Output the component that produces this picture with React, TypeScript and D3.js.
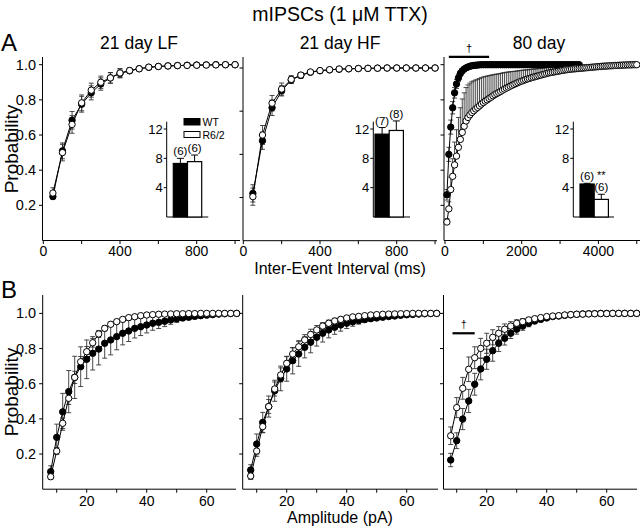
import React from "react";
import * as d3 from "d3";

const FONT = "'Liberation Sans', Arial, Helvetica, sans-serif";

// ---------- Inter-event interval CDFs (ms) ----------
const intervalX = [50, 100, 150, 200, 250, 300, 350, 400, 450, 500, 550, 600, 650, 700, 750, 800, 850, 900, 950, 1000];

const lfWT = [0.25, 0.51, 0.684, 0.775, 0.84, 0.89, 0.925, 0.95, 0.965, 0.977, 0.985, 0.99, 0.993, 0.995, 0.997, 0.998, 0.999, 1.0, 1.0, 1.0];
const lfWTErr = [0.015, 0.045, 0.05, 0.045, 0.04, 0.035, 0.03, 0.025, 0.015, 0.01, 0.008, 0.006, 0.005, 0.004, 0.003, 0.002, 0.002, 0.001, 0, 0];
const lfR62 = [0.27, 0.5, 0.66, 0.783, 0.855, 0.9, 0.925, 0.953, 0.967, 0.977, 0.986, 0.99, 0.993, 0.995, 0.996, 0.997, 0.998, 0.999, 1.0, 1.0];
const lfR62Err = [0.03, 0.047, 0.05, 0.045, 0.04, 0.035, 0.03, 0.025, 0.015, 0.01, 0.008, 0.006, 0.005, 0.004, 0.003, 0.002, 0.002, 0.001, 0, 0];

const hfWT = [0.274, 0.579, 0.77, 0.868, 0.93, 0.957, 0.975, 0.984, 0.989, 0.993, 0.995, 0.997, 0.998, 0.999, 1.0, 1.0, 1.0, 1.0, 1.0, 1.0];
const hfWTErr = [0.05, 0.05, 0.045, 0.03, 0.02, 0.015, 0.01, 0.008, 0.006, 0.004, 0.003, 0.002, 0.002, 0.001, 0, 0, 0, 0, 0, 0];
const hfR62 = [0.255, 0.612, 0.796, 0.878, 0.934, 0.959, 0.977, 0.985, 0.99, 0.994, 0.996, 0.997, 0.998, 0.999, 1.0, 1.0, 1.0, 1.0, 1.0, 1.0];
const hfR62Err = [0.05, 0.055, 0.045, 0.035, 0.022, 0.015, 0.01, 0.008, 0.006, 0.004, 0.003, 0.002, 0.002, 0.001, 0, 0, 0, 0, 0, 0];

const oldX = [
  50, 100, 150, 200, 250, 300, 350, 400, 450, 500,
  550, 600, 650, 700, 750, 800, 850, 900, 950, 1000,
  1050, 1100, 1150, 1200, 1250, 1300, 1350, 1400, 1450, 1500,
  1550, 1600, 1650, 1700, 1750, 1800, 1850, 1900, 1950, 2000,
  2050, 2100, 2150, 2200, 2250, 2300, 2350, 2400, 2450, 2500,
  2550, 2600, 2650, 2700, 2750, 2800, 2850, 2900, 2950, 3000,
  3050, 3100, 3150, 3200, 3250, 3300, 3350, 3400, 3450, 3500,
  3550, 3600, 3650, 3700, 3750, 3800, 3850, 3900, 3950, 4000,
  4050, 4100, 4150, 4200, 4250, 4300, 4350, 4400, 4450, 4500,
  4550, 4600, 4650, 4700, 4750, 4800, 4850, 4900, 4950, 5000,
];
const oldWT = [
  0.26, 0.49, 0.645, 0.755, 0.84, 0.89, 0.925, 0.95, 0.965, 0.975,
  0.982, 0.987, 0.991, 0.994, 0.996, 0.997, 0.998, 0.999, 1.0, 1.0,
  1.0, 1.0, 1.0, 1.0, 1.0, 1.0, 1.0, 1.0, 1.0, 1.0,
  1.0, 1.0, 1.0, 1.0, 1.0, 1.0, 1.0, 1.0, 1.0, 1.0,
  1.0, 1.0, 1.0, 1.0, 1.0, 1.0, 1.0, 1.0, 1.0, 1.0,
  1.0, 1.0, 1.0, 1.0, 1.0, 1.0, 1.0, 1.0, 1.0, 1.0,
  1.0, 1.0, 1.0, 1.0, 1.0, 1.0, 1.0, 1.0, 1.0, 1.0,
];
const oldWTErr = [
  0.03, 0.04, 0.04, 0.035, 0.03, 0.025, 0.02, 0.015, 0.012, 0.01,
  0.008, 0.006, 0.005, 0.004, 0.003, 0.002, 0.002, 0.001, 0, 0,
  0, 0, 0, 0, 0, 0, 0, 0, 0, 0,
  0, 0, 0, 0, 0, 0, 0, 0, 0, 0,
  0, 0, 0, 0, 0, 0, 0, 0, 0, 0,
  0, 0, 0, 0, 0, 0, 0, 0, 0, 0,
  0, 0, 0, 0, 0, 0, 0, 0, 0, 0,
];
const oldR62 = [
  0.105, 0.18, 0.29, 0.365, 0.43, 0.48, 0.53, 0.575, 0.615, 0.65,
  0.68, 0.7, 0.715, 0.728, 0.738, 0.748, 0.757, 0.766, 0.776, 0.785,
  0.793, 0.8, 0.808, 0.815, 0.823, 0.83, 0.836, 0.842, 0.848, 0.855,
  0.861, 0.867, 0.872, 0.878, 0.883, 0.888, 0.893, 0.898, 0.903, 0.907,
  0.911, 0.915, 0.919, 0.922, 0.926, 0.929, 0.932, 0.935, 0.938, 0.941,
  0.944, 0.947, 0.95, 0.953, 0.955, 0.957, 0.959, 0.961, 0.963, 0.965,
  0.967, 0.969, 0.971, 0.972, 0.974, 0.975, 0.976, 0.977, 0.978, 0.979,
  0.98, 0.981, 0.982, 0.983, 0.984, 0.985, 0.986, 0.987, 0.988, 0.989,
  0.99, 0.991, 0.992, 0.992, 0.993, 0.994, 0.994, 0.995, 0.996, 0.996,
  0.997, 0.997, 0.998, 0.998, 0.999, 0.999, 0.999, 1.0, 1.0, 1.0,
];
const oldR62Err = [
  0.02, 0.04, 0.07, 0.1, 0.13, 0.15, 0.17, 0.18, 0.19, 0.19,
  0.19, 0.185, 0.18, 0.175, 0.17, 0.165, 0.16, 0.155, 0.15, 0.145,
  0.14, 0.135, 0.13, 0.125, 0.12, 0.115, 0.11, 0.106, 0.102, 0.098,
  0.094, 0.09, 0.086, 0.082, 0.078, 0.074, 0.07, 0.067, 0.064, 0.061,
  0.058, 0.055, 0.052, 0.05, 0.048, 0.046, 0.044, 0.042, 0.04, 0.038,
  0.036, 0.035, 0.034, 0.033, 0.032, 0.031, 0.03, 0.029, 0.028, 0.027,
  0.026, 0.025, 0.024, 0.023, 0.022, 0.021, 0.02, 0.019, 0.018, 0.017,
  0.016, 0.015, 0.015, 0.014, 0.013, 0.012, 0.012, 0.011, 0.01, 0.01,
  0.009, 0.009, 0.008, 0.008, 0.007, 0.006, 0.006, 0.005, 0.005, 0.004,
  0.004, 0.003, 0.003, 0.002, 0.002, 0.002, 0.001, 0, 0, 0,
];

// ---------- Amplitude CDFs (pA) ----------
const ampX = [8, 10, 12, 14, 16, 18, 20, 22, 24, 26, 28, 30, 32, 34, 36, 38, 40, 42, 44, 46, 48, 50, 52, 54, 56, 58, 60, 62, 64, 66, 68, 70];

const ampLfWT = [0.1, 0.295, 0.44, 0.555, 0.636, 0.697, 0.739, 0.773, 0.797, 0.83, 0.849, 0.868, 0.887, 0.9, 0.915, 0.924, 0.934, 0.944, 0.949, 0.955, 0.963, 0.969, 0.974, 0.978, 0.983, 0.987, 0.99, 0.993, 0.996, 0.998, 0.999, 1.0];
const ampLfWTErr = [0.033, 0.075, 0.105, 0.12, 0.12, 0.113, 0.11, 0.095, 0.09, 0.085, 0.085, 0.075, 0.066, 0.06, 0.055, 0.05, 0.045, 0.04, 0.035, 0.03, 0.025, 0.02, 0.015, 0.012, 0.01, 0.008, 0.006, 0.004, 0.003, 0.002, 0.001, 0];
const ampLfR62 = [0.071, 0.217, 0.375, 0.517, 0.636, 0.725, 0.782, 0.833, 0.883, 0.915, 0.938, 0.953, 0.966, 0.976, 0.981, 0.987, 0.991, 0.993, 0.995, 0.996, 0.997, 0.998, 0.998, 0.999, 0.999, 1.0, 1.0, 1.0, 1.0, 1.0, 1.0, 1.0];
const ampLfR62Err = [0.015, 0.02, 0.03, 0.035, 0.035, 0.03, 0.03, 0.025, 0.02, 0.015, 0.012, 0.01, 0.008, 0.006, 0.005, 0.004, 0.003, 0.003, 0.002, 0.002, 0.001, 0.001, 0.001, 0, 0, 0, 0, 0, 0, 0, 0, 0];

const ampHfWT = [0.109, 0.257, 0.38, 0.47, 0.56, 0.63, 0.684, 0.731, 0.769, 0.807, 0.836, 0.864, 0.887, 0.906, 0.921, 0.934, 0.944, 0.952, 0.959, 0.965, 0.97, 0.974, 0.978, 0.982, 0.985, 0.989, 0.992, 0.994, 0.996, 0.998, 0.999, 1.0];
const ampHfWTErr = [0.03, 0.057, 0.057, 0.06, 0.06, 0.07, 0.07, 0.075, 0.07, 0.06, 0.06, 0.05, 0.05, 0.045, 0.04, 0.035, 0.03, 0.025, 0.02, 0.017, 0.014, 0.012, 0.01, 0.008, 0.006, 0.005, 0.004, 0.003, 0.002, 0.001, 0, 0];
const ampHfR62 = [0.075, 0.217, 0.356, 0.47, 0.57, 0.65, 0.716, 0.769, 0.81, 0.849, 0.88, 0.906, 0.928, 0.944, 0.957, 0.966, 0.974, 0.98, 0.983, 0.987, 0.991, 0.993, 0.995, 0.996, 0.997, 0.998, 0.999, 1.0, 1.0, 1.0, 1.0, 1.0];
const ampHfR62Err = [0.02, 0.03, 0.035, 0.04, 0.04, 0.04, 0.04, 0.035, 0.035, 0.03, 0.03, 0.025, 0.02, 0.018, 0.015, 0.012, 0.01, 0.008, 0.006, 0.005, 0.004, 0.003, 0.002, 0.002, 0.001, 0.001, 0, 0, 0, 0, 0, 0];

const ampOldWT = [0.166, 0.276, 0.399, 0.502, 0.597, 0.684, 0.739, 0.788, 0.83, 0.858, 0.887, 0.91, 0.928, 0.944, 0.957, 0.966, 0.974, 0.982, 0.985, 0.989, 0.992, 0.995, 0.997, 0.998, 0.999, 1.0, 1.0, 1.0, 1.0, 1.0, 1.0, 1.0];
const ampOldWTErr = [0.038, 0.045, 0.06, 0.066, 0.062, 0.062, 0.057, 0.06, 0.047, 0.038, 0.03, 0.028, 0.024, 0.02, 0.016, 0.013, 0.01, 0.008, 0.006, 0.005, 0.004, 0.003, 0.002, 0.001, 0, 0, 0, 0, 0, 0, 0, 0];
const ampOldR62 = [0.304, 0.464, 0.574, 0.682, 0.748, 0.801, 0.83, 0.864, 0.887, 0.91, 0.928, 0.944, 0.953, 0.963, 0.97, 0.976, 0.982, 0.985, 0.987, 0.991, 0.993, 0.995, 0.996, 0.997, 0.998, 0.999, 0.999, 1.0, 1.0, 1.0, 1.0, 1.0];
const ampOldR62Err = [0.05, 0.057, 0.062, 0.07, 0.062, 0.057, 0.057, 0.043, 0.038, 0.03, 0.025, 0.02, 0.017, 0.014, 0.012, 0.01, 0.008, 0.006, 0.005, 0.004, 0.003, 0.002, 0.002, 0.001, 0.001, 0, 0, 0, 0, 0, 0, 0];

// ---------- Inset bars (frequency, Hz) ----------
const insetGroups = ["WT", "R6/2"];
const insetWT = [7.3, 11.3, 4.5];
const insetWTErr = [0.7, 0.9, 0.1];
const insetR62 = [7.55, 11.8, 2.4];
const insetR62Err = [0.9, 1.3, 0.7];
const insetNWT = ["(6)", "(7)", "(6)"];
const insetNR62 = ["(6)", "(8)", "(6)"];
const insetTicks = [4, 8, 12];

// ---------- Text ----------
const panelTitles = ["21 day LF", "21 day HF", "80 day"];
const yTicksFine = [0.2, 0.4, 0.6, 0.8, 1.0];
const yTicksQuarter = [0.25, 0.5, 0.75, 1.0];
const msTicksShort = [0, 200, 400, 600, 800, 1000];
const msLabelsShort = [0, 400, 800];
const msTicksLong = [0, 1000, 2000, 3000, 4000, 5000];
const msLabelsLong = [0, 2000, 4000];
const ampTicks = [10, 20, 30, 40, 50, 60];
const ampLabels = [20, 40, 60];

type S = { x: number[]; y: number[]; e: number[]; filled: boolean; upOnly?: boolean };

function DataLayer({ series, xs, ys }: { series: S[]; xs: any; ys: any }) {
  return (
    <g>
      {series.map((s, si) => (
        <g key={"e" + si} stroke="#2a2a2a" strokeWidth={0.85}>
          {s.y.map((v, i) => {
            const e = s.e[i];
            if (!e) return null;
            const cx = xs(s.x[i]);
            const y1 = s.upOnly ? ys(v) : ys(v - e);
            const y2 = ys(v + e);
            return (
              <g key={i}>
                <line x1={cx} x2={cx} y1={y1} y2={y2} />
                {!s.upOnly && <line x1={cx - 2.5} x2={cx + 2.5} y1={y1} y2={y1} />}
                <line x1={cx - 2.5} x2={cx + 2.5} y1={y2} y2={y2} />
              </g>
            );
          })}
        </g>
      ))}
      {series.map((s, si) => {
        const line = d3
          .line<number>()
          .x((_, i) => xs(s.x[i]))
          .y((d) => ys(d));
        return <path key={"l" + si} d={line(s.y) || ""} fill="none" stroke="#000" strokeWidth={1} />;
      })}
      {[true, false].map((f) =>
        series
          .filter((s) => s.filled === f)
          .map((s, si) => (
            <g key={"c" + f + si}>
              {s.y.map((v, i) => (
                <circle
                  key={i}
                  cx={xs(s.x[i])}
                  cy={ys(v)}
                  r={3.2}
                  fill={s.filled ? "#000" : "#fff"}
                  stroke="#000"
                  strokeWidth={1}
                />
              ))}
            </g>
          ))
      )}
    </g>
  );
}

function Axes({
  xs, ys, axisX, axisEnd, axisTop, xTicks, xLabels, yTicks, showYLabels, labelY,
}: any) {
  const y0 = ys(0);
  return (
    <g>
      <line x1={axisX} x2={axisX} y1={axisTop} y2={y0} stroke="#000" strokeWidth={1} />
      <line x1={axisX} x2={axisEnd} y1={y0} y2={y0} stroke="#000" strokeWidth={1} />
      {yTicks.map((t: number) => (
        <g key={"y" + t}>
          <line x1={axisX - 3.5} x2={axisX} y1={ys(t)} y2={ys(t)} stroke="#000" />
          {showYLabels && (
            <text x={axisX - 6.5} y={ys(t)} dy="0.35em" textAnchor="end" fontSize={14.5} fill="#000">
              {d3.format(".1f")(t)}
            </text>
          )}
        </g>
      ))}
      {xTicks.map((t: number) => (
        <line key={"x" + t} x1={xs(t)} x2={xs(t)} y1={y0} y2={y0 + 3.5} stroke="#000" />
      ))}
      {xLabels.map((t: number) => (
        <text key={"xl" + t} x={xs(t)} y={labelY} textAnchor="middle" fontSize={14} fill="#000">
          {t}
        </text>
      ))}
    </g>
  );
}

function Inset({ idx, axisX, barX0, axisEnd, legend }: any) {
  const yIn = d3.scaleLinear().domain([0, 12]).range([217, 129]);
  const xb = d3.scaleBand().domain(insetGroups).range([barX0, barX0 + 28.4]).padding(0);
  const vals = [insetWT[idx], insetR62[idx]];
  const errs = [insetWTErr[idx], insetR62Err[idx]];
  const ns = [insetNWT[idx], insetNR62[idx]];
  return (
    <g>
      <line x1={axisX} x2={axisX} y1={yIn(13)} y2={yIn(0)} stroke="#000" />
      <line x1={axisX} x2={axisEnd} y1={yIn(0)} y2={yIn(0)} stroke="#000" />
      {insetTicks.map((t) => (
        <g key={t}>
          <line x1={axisX - 3} x2={axisX} y1={yIn(t)} y2={yIn(t)} stroke="#000" />
          <text x={axisX - 4} y={yIn(t)} dy="0.35em" textAnchor="end" fontSize={13} fill="#000">
            {t}
          </text>
        </g>
      ))}
      {insetGroups.map((g, i) => {
        const bx = xb(g) as number;
        const bw = xb.bandwidth();
        const cx = bx + bw / 2;
        const top = yIn(vals[i] + errs[i]);
        return (
          <g key={g}>
            <line x1={cx} x2={cx} y1={yIn(vals[i])} y2={top} stroke="#000" strokeWidth={1} />
            <line x1={cx - 3.5} x2={cx + 3.5} y1={top} y2={top} stroke="#000" strokeWidth={1} />
            <rect
              x={bx}
              y={yIn(vals[i])}
              width={bw}
              height={yIn(0) - yIn(vals[i])}
              fill={i === 0 ? "#000" : "#fff"}
              stroke="#000"
              strokeWidth={1.2}
            />
            <text x={cx} y={top - 3} textAnchor="middle" fontSize={11.5} fill="#000">
              {ns[i]}
            </text>
          </g>
        );
      })}
      {idx === 2 && (
        <text x={(xb("R6/2") as number) + xb.bandwidth() / 2} y={178.5} textAnchor="middle" fontSize={11} fill="#000">
          **
        </text>
      )}
      {legend && (
        <g>
          <rect x={184} y={118.5} width={16} height={6.5} fill="#000" stroke="#000" />
          <text x={202.5} y={125.5} fontSize={10.5} fill="#000">WT</text>
          <rect x={184} y={131.5} width={16} height={6} fill="#fff" stroke="#000" />
          <text x={202.5} y={138.5} fontSize={10.5} fill="#000">R6/2</text>
        </g>
      )}
    </g>
  );
}

export default function App() {
  const yA = d3.scaleLinear().domain([0, 1]).range([240.5, 64.7]);
  const yA2 = d3.scaleLinear().domain([0, 1]).range([240.7, 68]);
  const yB = d3.scaleLinear().domain([0, 1]).range([489.2, 313.4]);

  const xA1 = d3.scaleLinear().domain([0, 1000]).range([43.3, 235.05]);
  const xA2 = d3.scaleLinear().domain([0, 1000]).range([243.3, 435.05]);
  const xA3 = d3.scaleLinear().domain([0, 5000]).range([445, 636.75]);
  const xB1 = d3.scaleLinear().domain([0, 70]).range([26.7, 236.7]);
  const xB2 = d3.scaleLinear().domain([0, 70]).range([226.7, 436.7]);
  const xB3 = d3.scaleLinear().domain([0, 70]).range([426.7, 636.7]);

  const top = [
    {
      xs: xA1, ys: yA, axisX: 42.5, axisEnd: 240, yTicks: yTicksFine, showY: true,
      xTicks: msTicksShort, xLabels: msLabelsShort,
      series: [
        { x: intervalX, y: lfWT, e: lfWTErr, filled: true },
        { x: intervalX, y: lfR62, e: lfR62Err, filled: false },
      ],
    },
    {
      xs: xA2, ys: yA2, axisX: 243, axisEnd: 437, yTicks: yTicksQuarter, showY: false,
      xTicks: msTicksShort, xLabels: msLabelsShort,
      series: [
        { x: intervalX, y: hfWT, e: hfWTErr, filled: true },
        { x: intervalX, y: hfR62, e: hfR62Err, filled: false },
      ],
    },
    {
      xs: xA3, ys: yA, axisX: 444, axisEnd: 640, yTicks: yTicksFine, showY: false,
      xTicks: msTicksLong, xLabels: msLabelsLong,
      series: [
        { x: oldX.slice(0, oldWT.length), y: oldWT, e: oldWTErr, filled: true },
        { x: oldX, y: oldR62, e: oldR62Err, filled: false, upOnly: true },
      ],
    },
  ];
  const bottom = [
    {
      xs: xB1, axisX: 42.7, axisEnd: 236, showY: true,
      series: [
        { x: ampX, y: ampLfWT, e: ampLfWTErr, filled: true },
        { x: ampX, y: ampLfR62, e: ampLfR62Err, filled: false },
      ],
    },
    {
      xs: xB2, axisX: 242.7, axisEnd: 438, showY: false,
      series: [
        { x: ampX, y: ampHfWT, e: ampHfWTErr, filled: true },
        { x: ampX, y: ampHfR62, e: ampHfR62Err, filled: false },
      ],
    },
    {
      xs: xB3, axisX: 443.5, axisEnd: 637, showY: false,
      series: [
        { x: ampX, y: ampOldWT, e: ampOldWTErr, filled: true },
        { x: ampX, y: ampOldR62, e: ampOldR62Err, filled: false },
      ],
    },
  ];
  const insets = [
    { axisX: 166.7, barX0: 173.3, axisEnd: 208.3, legend: true },
    { axisX: 373.3, barX0: 375, axisEnd: 410, legend: false },
    { axisX: 573.3, barX0: 580, axisEnd: 614, legend: false },
  ];
  const titleX = [139, 340, 539];

  return (
    <svg
      width={640}
      height={526}
      style={{ position: "absolute", left: 0, top: 0, background: "#fff" }}
      fontFamily={FONT}
      fill="#000"
    >
      <rect x={0} y={0} width={640} height={526} fill="#fff" />
      <text x={340} y={21} textAnchor="middle" fontSize={19.5} fill="#000">
        mIPSCs (1 μM TTX)
      </text>
      <text x={1} y={51} fontSize={24} fill="#000">A</text>
      <text x={1} y={298} fontSize={24} fill="#000">B</text>
      {panelTitles.map((t, i) => (
        <text key={t} x={titleX[i]} y={49} textAnchor="middle" fontSize={17.5} fill="#000">
          {t}
        </text>
      ))}

      {top.map((p, i) => (
        <g key={"top" + i}>
          <Axes
            xs={p.xs} ys={p.ys} axisX={p.axisX} axisEnd={p.axisEnd} axisTop={57}
            xTicks={p.xTicks} xLabels={p.xLabels} yTicks={p.yTicks} showYLabels={p.showY} labelY={256}
          />
          <DataLayer series={p.series} xs={p.xs} ys={p.ys} />
          <Inset idx={i} {...insets[i]} />
        </g>
      ))}

      {bottom.map((p, i) => (
        <g key={"bot" + i}>
          <Axes
            xs={p.xs} ys={yB} axisX={p.axisX} axisEnd={p.axisEnd} axisTop={295}
            xTicks={ampTicks} xLabels={ampLabels} yTicks={yTicksFine} showYLabels={p.showY} labelY={506}
          />
          <DataLayer series={p.series} xs={p.xs} ys={yB} />
        </g>
      ))}

      <line x1={xA3(100)} x2={xA3(1150)} y1={yA(1.045)} y2={yA(1.045)} stroke="#000" strokeWidth={2.2} />
      <text x={xA3(625)} y={52} textAnchor="middle" fontSize={11} fill="#000">†</text>
      <line x1={xB3(8.6)} x2={xB3(16)} y1={yB(0.887)} y2={yB(0.887)} stroke="#000" strokeWidth={2.2} />
      <text x={xB3(12.4)} y={328} textAnchor="middle" fontSize={10} fill="#000">†</text>

      <text x={340} y={274} textAnchor="middle" fontSize={16} fill="#000">Inter-Event Interval (ms)</text>
      <text x={340} y={523} textAnchor="middle" fontSize={16} fill="#000">Amplitude (pA)</text>
      <text transform="translate(18,149) rotate(-90)" textAnchor="middle" fontSize={19} fill="#000">Probability</text>
      <text transform="translate(18,392) rotate(-90)" textAnchor="middle" fontSize={19} fill="#000">Probability</text>
    </svg>
  );
}
